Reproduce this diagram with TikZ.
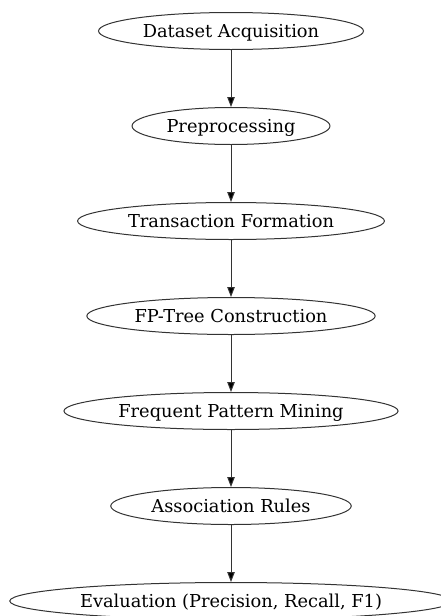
\documentclass[tikz,border=0pt]{standalone}
\usepackage{fontspec}
\setmainfont{DejaVu Serif}
\usepackage{xcolor}
\usetikzlibrary{arrows.meta,shapes.geometric}

\definecolor{linegray}{gray}{0.2}

\begin{document}
\begin{tikzpicture}[
    stage/.style={ellipse,draw=linegray,line width=1pt,minimum height=37pt,
                  inner xsep=5.5pt,inner ysep=2pt,text height=12pt,text depth=0pt,
                  font=\fontsize{17.8pt}{20pt}\selectfont},
    flow/.style={draw=linegray,line width=1pt,-{Triangle[length=10pt,width=7.5pt,fill=black]}}]
    \useasboundingbox (0pt,0pt) rectangle (441pt,-616pt);
    \node [stage] (acq) at (231pt,-31pt) {Dataset Acquisition};
    \node [stage] (prep) at (231pt,-126pt) {Preprocessing};
    \node [stage] (trans) at (231pt,-221pt) {Transaction Formation};
    \node [stage] (fptree) at (231pt,-316pt) {FP-Tree Construction};
    \node [stage] (mining) at (231pt,-411pt) {Frequent Pattern Mining};
    \node [stage] (rules) at (231pt,-506pt) {Association Rules};
    \node [stage] (eval) at (231pt,-601pt) {Evaluation (Precision, Recall, F1)};
    % arrows between stages
    \draw [flow] (acq) -- (prep);
    \draw [flow] (prep) -- (trans);
    \draw [flow] (trans) -- (fptree);
    \draw [flow] (fptree) -- (mining);
    \draw [flow] (mining) -- (rules);
    \draw [flow] (rules) -- (eval);
\end{tikzpicture}
\end{document}
